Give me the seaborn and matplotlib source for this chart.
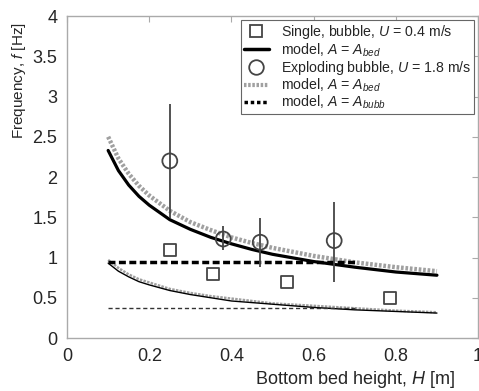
import seaborn as sns
import matplotlib.pyplot as plt
from matplotlib.lines import Line2D

# measured points
h_single = [0.25, 0.355, 0.535, 0.785]
f_single = [1.09, 0.80, 0.69, 0.50]

h_expl = [0.25, 0.38, 0.47, 0.65]
f_expl = [2.20, 1.23, 1.19, 1.21]
f_expl_lo = [1.49, 1.09, 0.88, 0.70]
f_expl_hi = [2.91, 1.39, 1.49, 1.69]

# model curves
h_model = [0.10, 0.125, 0.15, 0.175, 0.20, 0.25, 0.30, 0.35, 0.40, 0.45, 0.50, 0.60, 0.70, 0.80, 0.90]
f_bed_expl_black = [2.33, 2.08, 1.90, 1.76, 1.65, 1.47, 1.35, 1.25, 1.17, 1.10, 1.04, 0.95, 0.88, 0.82, 0.78]
f_bed_expl_gray = [2.50, 2.23, 2.04, 1.89, 1.77, 1.58, 1.44, 1.34, 1.25, 1.18, 1.12, 1.02, 0.94, 0.88, 0.83]
f_bed_single_black = [0.93, 0.83, 0.76, 0.70, 0.66, 0.59, 0.54, 0.50, 0.46, 0.44, 0.42, 0.38, 0.35, 0.33, 0.31]
f_bed_single_gray = [0.97, 0.87, 0.79, 0.73, 0.69, 0.61, 0.56, 0.52, 0.49, 0.46, 0.43, 0.40, 0.37, 0.34, 0.32]

h_bubb = [0.10, 0.70]
f_bubb_expl = [0.95, 0.95]
f_bubb_single = [0.37, 0.37]

sns.set_style("white")
plt.rcParams['font.family'] = ['Liberation Sans', 'DejaVu Sans']
plt.rcParams['mathtext.fontset'] = 'custom'
plt.rcParams['mathtext.it'] = 'Liberation Sans:italic'
plt.rcParams['mathtext.rm'] = 'Liberation Sans'

fig = plt.figure(figsize=(4.79, 3.91), dpi=100)
ax = fig.add_axes([0.140, 0.1355, 0.858, 0.8235])

gray = '#a0a0a0'
# thin (single bubble) models
sns.lineplot(x=h_model, y=f_bed_single_gray, ax=ax, color=gray, lw=1.8, ls=(0, (1, 0.5)))
sns.lineplot(x=h_model, y=f_bed_single_black, ax=ax, color='black', lw=1.0)
sns.lineplot(x=h_bubb, y=f_bubb_single, ax=ax, color='#333333', lw=1.0, ls=(0, (3, 2)))
# thick (exploding bubble) models
sns.lineplot(x=h_model, y=f_bed_expl_gray, ax=ax, color=gray, lw=3.2, ls=(0, (0.6, 0.4)))
sns.lineplot(x=h_model, y=f_bed_expl_black, ax=ax, color='black', lw=2.3)
sns.lineplot(x=h_bubb, y=f_bubb_expl, ax=ax, color='black', lw=2.5, ls=(0, (2, 1)))

ax.vlines(h_expl, f_expl_lo, f_expl_hi, color='#444444', lw=1.3)
sns.scatterplot(x=h_single, y=f_single, ax=ax, marker='s', s=75,
                facecolor='white', edgecolor='#444444', linewidth=1.3, zorder=5)
sns.scatterplot(x=h_expl, y=f_expl, ax=ax, marker='o', s=115,
                facecolor='none', edgecolor='#444444', linewidth=1.3, zorder=5)

ax.set_xlim(0, 1)
ax.set_ylim(0, 4)
ax.set_xticks([0, 0.2, 0.4, 0.6, 0.8, 1])
ax.set_xticklabels(['0', '0.2', '0.4', '0.6', '0.8', '1'])
ax.set_yticks([0, 0.5, 1, 1.5, 2, 2.5, 3, 3.5, 4])
ax.set_yticklabels(['0', '0.5', '1', '1.5', '2', '2.5', '3', '3.5', '4'])
ax.tick_params(direction='in', length=4, color='#aaaaaa', labelsize=13,
               top=True, right=True, pad=7)
for s in ax.spines.values():
    s.set_color('#aaaaaa')
    s.set_linewidth(1.0)

ax.set_xlabel('Bottom bed height, $H$ [m]', fontsize=13)
ax.set_ylabel('Frequency, $f$ [Hz]', fontsize=11)
ax.xaxis.set_label_coords(0.70, -0.095)
ax.yaxis.set_label_coords(-0.095, 0.80)

handles = [
    Line2D([], [], ls='none', marker='s', ms=8.5, mfc='white', mec='#444444', mew=1.3),
    Line2D([], [], color='black', lw=2.5),
    Line2D([], [], ls='none', marker='o', ms=10.5, mfc='none', mec='#444444', mew=1.3),
    Line2D([], [], color=gray, lw=3, ls=(0, (0.6, 0.4))),
    Line2D([], [], color='black', lw=2.5, ls=(0, (1, 0.8))),
]
labels = [
    'Single, bubble, $U$ = 0.4 m/s',
    'model, $A$ = $A_{bed}$',
    'Exploding bubble, $U$ = 1.8 m/s',
    'model, $A$ = $A_{bed}$',
    'model, $A$ = $A_{bubb}$',
]
leg = ax.legend(handles, labels, loc='upper right', fontsize=10.2, handlelength=1.8,
                borderaxespad=0.3, labelspacing=0.0, handletextpad=0.8,
                fancybox=False, framealpha=1, borderpad=0.2)
leg.get_frame().set_edgecolor('#666666')
leg.get_frame().set_linewidth(0.8)

fig.savefig('out.png', dpi=100)
